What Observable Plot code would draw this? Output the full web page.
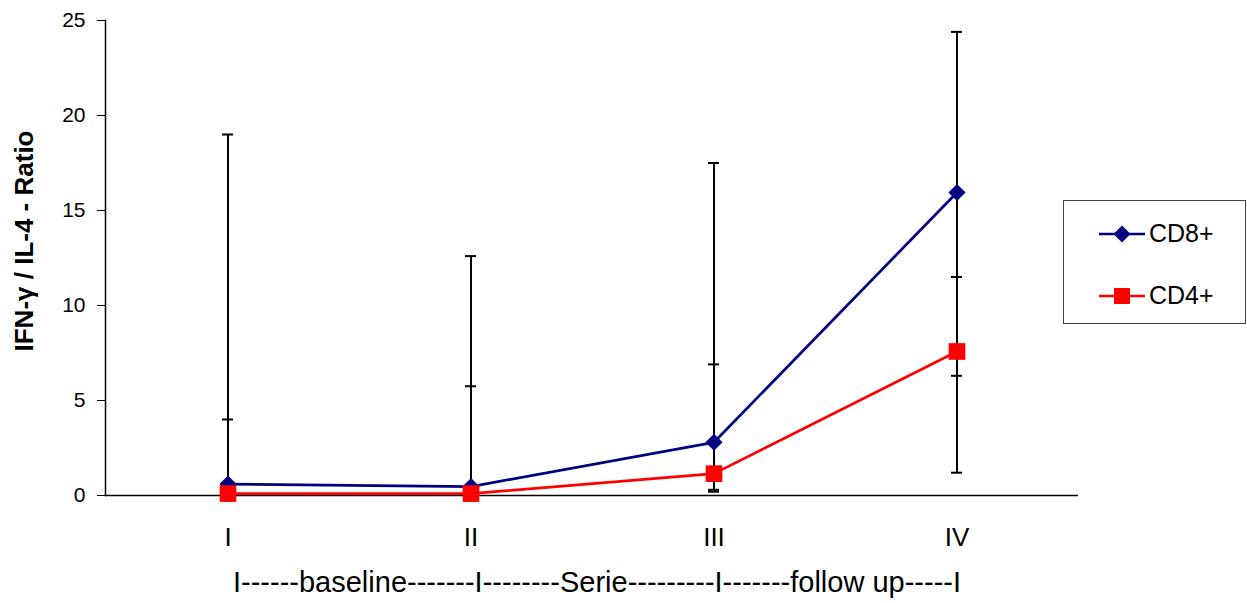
<!DOCTYPE html>
<html>
<head>
<meta charset="utf-8">
<script src="https://cdn.jsdelivr.net/npm/d3@7"></script>
<script src="https://cdn.jsdelivr.net/npm/@observablehq/plot@0.6"></script>
<style>
  body { margin: 0; background: #fff; font-family: "Liberation Sans", Arial, sans-serif; }
  #wrap { position: relative; width: 1247px; height: 603px; overflow: hidden; }
  #legend {
    position: absolute; left: 1063px; top: 200px; width: 183px; height: 124px;
    border: 1px solid #404040; background: #fff; box-sizing: border-box;
  }
  .item { position: absolute; left: 35px; display: flex; align-items: center; font-size: 25px; color: #000; line-height: 1; }
  .item svg { margin-right: 4px; }
</style>
</head>
<body>
<div id="wrap"></div>
<script>
// Sampling points (series I–IV)
const categories = ["I", "II", "III", "IV"];

// IFN-γ / IL-4 ratio per cell type
const cd8Values = [0.6, 0.47, 2.8, 15.95];
const cd4Values = [0.1, 0.1, 1.15, 7.58];

// Error-bar extents (null = bar runs below the axis)
const cd8High = [19.0, 12.6, 17.5, 24.4];
const cd8Low  = [null, null, 0.3, 1.2];
const cd4High = [4.0, 5.75, 6.9, 11.5];
const cd4Low  = [null, null, 0.2, 6.3];

const yTicks = [0, 5, 10, 15, 20, 25];
const yTitle = "IFN-γ / IL-4 - Ratio";
const xTitle = "I------baseline-------I--------Serie---------I-------follow up-----I";

const series = [
  {name: "CD8+", values: cd8Values, low: cd8Low, high: cd8High, color: "#000080", symbol: "diamond2", r: 7.7},
  {name: "CD4+", values: cd4Values, low: cd4Low, high: cd4High, color: "#ff0000", symbol: "square", r: 9.4}
];

const rows = series.flatMap(s => categories.map((c, i) => ({
  series: s.name, cat: c, value: s.values[i], low: s.low[i], high: s.high[i]
})));
const caps = rows.flatMap(d => [d.high, d.low].filter(v => v != null).map(v => ({cat: d.cat, v})));

const marks = [
  // error bars
  Plot.ruleX(rows, {x: "cat", y1: d => d.low ?? 0, y2: "high", stroke: "black", strokeWidth: 2}),
  Plot.tickY(caps, {x: "cat", y: "v", stroke: "black", strokeWidth: 2, insetLeft: 116, insetRight: 116}),
  // axes
  Plot.ruleY([0], {stroke: "black", strokeWidth: 1.5}),
  Plot.frame({anchor: "left", stroke: "black", strokeWidth: 1.5}),
  Plot.axisY({ticks: yTicks, tickSize: 8, tickPadding: 12, fontSize: 21, tickFormat: d => String(d), label: null}),
  Plot.axisX({tickSize: 0, tickPadding: 32, fontSize: 26, label: null}),
  Plot.text([yTitle], {frameAnchor: "left", textAnchor: "middle", lineAnchor: "middle", dx: -81, dy: -17, rotate: -90, fontSize: 26, fontWeight: "bold"}),
  Plot.text([xTitle], {frameAnchor: "bottom", textAnchor: "middle", lineAnchor: "middle", dx: 5, dy: 87, fontSize: 29})
];
for (const s of series) {
  const data = rows.filter(d => d.series === s.name);
  marks.push(Plot.line(data, {x: "cat", y: "value", stroke: s.color, strokeWidth: 2.7}));
  marks.push(Plot.dot(data, {x: "cat", y: "value", fill: s.color, stroke: "none", symbol: s.symbol, r: s.r}));
}

const chart = Plot.plot({
  width: 1247,
  height: 603,
  marginLeft: 105,
  marginRight: 169,
  marginTop: 20,
  marginBottom: 108,
  style: {fontFamily: "Liberation Sans, Arial, sans-serif", color: "black", background: "white", overflow: "visible"},
  x: {type: "band", domain: categories, padding: 0},
  y: {domain: [0, 25]},
  marks
});

const wrap = document.getElementById("wrap");
wrap.appendChild(chart);

// Legend
const legend = document.createElement("div");
legend.id = "legend";
series.forEach((s, i) => {
  const item = document.createElement("div");
  item.className = "item";
  item.style.top = (i === 0 ? 20 : 82) + "px";
  const marker = s.symbol === "square"
    ? `<rect x="15" y="3" width="16" height="16" fill="${s.color}"/>`
    : `<path d="M23,2.5L31.5,11L23,19.5L14.5,11Z" fill="${s.color}"/>`;
  item.innerHTML = `<svg width="46" height="22"><line x1="0" x2="46" y1="11" y2="11" stroke="${s.color}" stroke-width="2.7"/>${marker}</svg><span>${s.name}</span>`;
  legend.appendChild(item);
});
wrap.appendChild(legend);
</script>
</body>
</html>
